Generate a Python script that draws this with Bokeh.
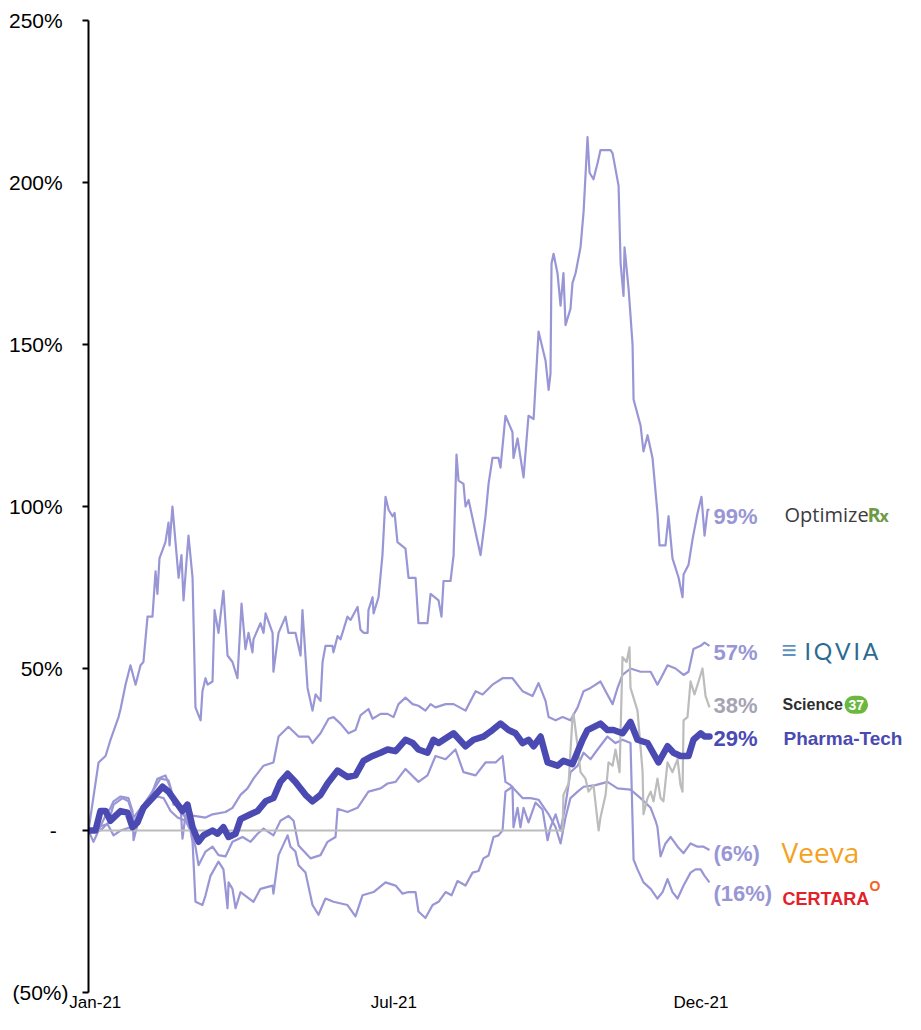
from bokeh.plotting import figure
from bokeh.models import Range1d, FixedTicker, Label
from bokeh.embed import file_html
from bokeh.resources import INLINE

# ---- data: day of year 2021 (0 = 1 Jan) and cumulative return in % ----
optimizerx_day = [0, 5.9, 10, 12.9, 17.6, 18.8, 21.7, 24.6, 27.6, 30.5, 32.2, 34.6, 37.5, 39.3, 40.4, 41.6, 45.1, 46.9, 47.5, 49.2, 51, 52.8, 54.5, 55.7, 58.6, 61, 62.7, 65.7, 66.8, 68.6, 69.8, 72.7, 73.9, 76.2, 79.1, 81.5, 84.4, 87.3, 89.7, 92, 93.8, 96.1, 96.7, 100.8, 102.6, 103.8, 107.9, 108.4, 111.4, 115.5, 117.2, 121.3, 124.3, 125.4, 128.4, 131.3, 133.1, 136, 137.2, 138.9, 143, 143.6, 146, 147.7, 151.8, 153.6, 157.7, 159.4, 161.2, 163.6, 164.1, 166.5, 167.1, 170, 172.3, 174.1, 175.9, 178.2, 179.4, 181.1, 185.8, 187.6, 191.7, 193.4, 198.7, 200.5, 205.2, 206.9, 208.1, 212.2, 214, 215.7, 216.9, 219.8, 221, 222.8, 226.9, 229.8, 232.7, 234.5, 236.8, 240.3, 241.5, 244.4, 248.5, 249.1, 251.5, 255, 257.9, 260.9, 263.8, 267.9, 269.7, 270.8, 271.4, 272.6, 274.9, 276.7, 278.4, 279.6, 282.5, 283.7, 285.5, 288.4, 290.2, 292.5, 293.7, 296, 298.4, 300.1, 306, 307.2, 310.7, 311.9, 313.6, 314.2, 316.6, 318.9, 319.5, 323.6, 325.3, 327.7, 330.6, 333.5, 334.7, 338.2, 340, 342.3, 345.9, 348.2, 348.8, 351.7, 354.1, 357, 359.3, 361.1, 362.9, 364]
optimizerx_ret = [0, 21, 23, 28, 35, 37.5, 45, 51, 45, 51, 52, 66, 66, 80, 73, 84, 89, 95, 88, 100, 89, 78, 85, 71, 91, 78, 38, 34, 43, 47, 45, 46, 68, 61, 74, 54, 52, 47, 70, 56, 61, 55, 59, 64, 61, 67, 61, 49, 61, 66, 61, 61, 54, 68, 44, 37, 42, 40, 52, 57, 57, 55, 60, 59, 66, 65, 69, 62, 61, 61, 68, 72, 67, 72, 85, 103, 99, 97, 98, 89, 87, 78, 78, 64, 64, 73, 71, 66, 77, 77, 85, 116, 108, 107, 100, 102, 92, 85, 97, 107, 115, 115, 112, 128, 123, 115, 121, 109, 128, 127, 154, 145, 136, 141, 175, 178, 172, 162, 172, 156, 161, 169, 172, 180, 191, 214, 203, 201, 206, 210, 210, 209, 199, 175, 165, 180, 167, 150, 133, 125, 117, 122, 115, 98, 88, 88, 97, 84, 78, 72, 79, 82, 90, 98, 103, 91, 99, 99]

iqvia_day = [0, 7, 11.7, 14.7, 19.9, 23.4, 26.4, 32.2, 37.5, 42.2, 46.9, 49.8, 53.9, 56.9, 59.8, 61, 68.6, 72.7, 80.3, 84.4, 89.1, 93.2, 96.7, 102.6, 108.4, 111.4, 117.2, 123.1, 129, 131.3, 136, 140.7, 143.6, 147.7, 152.4, 156.5, 159.4, 164.1, 166.5, 171.2, 175.3, 178.8, 181.7, 185.8, 190, 193.4, 197.5, 200.5, 203.4, 209.3, 214, 221, 226.9, 231, 236.8, 242.7, 248.5, 254.4, 260.3, 263.8, 267.9, 269.7, 273.8, 277.9, 282.5, 286.7, 290.2, 294.3, 300.1, 303.1, 307.2, 310.1, 313, 317.7, 323.6, 329.5, 333.5, 336.5, 339.4, 344.1, 348.8, 351.7, 354.6, 358.8, 361.1, 364]
iqvia_ret = [0, 0, 2.5, 8, 10, 9, 4, 8, 12, 16, 15.5, 10, 6, 4, 6, 4.6, 4, 5, 5.7, 7, 11, 13, 16, 20, 21, 29, 32, 29, 29, 27, 30, 34.5, 35, 33, 30, 31, 35.5, 37.5, 34.5, 36, 36, 35, 39, 41, 39, 38.5, 37, 39, 38, 39, 39, 37, 43, 42, 45, 47, 47, 43, 41.5, 45.5, 40, 35, 34, 35, 34, 38, 43, 44, 46, 43, 39, 44, 48, 50, 49, 49, 45, 48, 51, 50, 48, 49, 56, 57, 58, 57]

veeva_day = [0, 2.9, 5.9, 9.4, 12.9, 14.7, 18.8, 23.4, 25.8, 26.4, 29.3, 34.6, 40.4, 45.1, 48.1, 49.8, 53.9, 55.1, 56.9, 59.8, 62.7, 64.5, 68.6, 72.7, 76.2, 80.3, 84.4, 90.3, 95, 99.1, 102.6, 108.4, 112.5, 117.2, 120.2, 123.1, 130.1, 136, 140.1, 144.8, 146, 151.8, 157.7, 164.1, 171.2, 175.3, 180, 185.8, 193.4, 198.7, 203.4, 209.3, 215.1, 219.8, 226.9, 232.7, 238.6, 242.7, 244.4, 247.4, 254.4, 259.1, 263.8, 269.7, 273.8, 276.7, 279.6, 282.5, 286.7, 290.2, 297.2, 304.2, 310.1, 317.7, 323.6, 329.5, 332.4, 333.5, 335.3, 338.2, 341.2, 345.3, 348.8, 352.9, 357, 360.5, 364]
veeva_ret = [0, -3.5, 0, 4, 7, 9, 10.5, 10, 6, -3, 3, 8, 16, 17, 13, 8, 8, -2.5, 5, 0, -5, -10.7, -6.5, -5, -7.6, -8, -3.5, -2, -3.5, -1, 0.6, -1.5, 3, 4.5, 3, -4.6, -8.6, -7.6, -3.5, -2, 6.7, 5.7, 7, 12, 13, 14.5, 15, 19, 15, 17, 23, 22, 25, 18, 17, 21, 21, 23, 15, 14, 10, 10, 9.5, 5, 1, -4, 4, 10, 12, 13.5, 14, 15, 13, 12.6, 10, 7, 3, 1, -8, -4, -2, -5, -7, -4, -5, -5, -6]

certara_day = [0, 5.3, 11.1, 14.7, 18.8, 24.6, 30.5, 34.6, 40.4, 44, 48.1, 52.2, 56.9, 59.8, 61, 62.7, 66.8, 68.6, 71.5, 76.2, 79.1, 81.5, 82.1, 84.4, 86.2, 89.1, 96.7, 100.8, 107.9, 108.4, 111.4, 116.7, 118.4, 121.3, 123.1, 127.2, 131.3, 134.8, 138.9, 143.6, 151.8, 156.5, 160.6, 167.1, 174.1, 180, 184.1, 187.6, 191.7, 193.4, 197.5, 201.7, 205.2, 209.3, 212.8, 216.3, 221, 225.1, 228.6, 231.5, 234.5, 237.4, 240.3, 242.7, 244.4, 248.5, 249.1, 251.5, 253.2, 255, 257.9, 262, 266.1, 269.1, 270.8, 273.8, 276.7, 279.6, 282.5, 286.7, 290.2, 294.3, 298.4, 304.2, 308.9, 313, 317.7, 319.5, 321.8, 325.3, 329.5, 333.5, 336.5, 339.4, 342.3, 345.3, 348.8, 352.9, 355.8, 358.8, 361.1, 364]
certara_ret = [0, 1, 2, -1.5, 0, 1, 6, 9, 10.5, 10, 6, 4, 3, 0, -3.5, -22, -23, -20, -14, -9.6, -12, -24, -16, -18, -24, -19, -22, -18, -17, -19.5, -7.6, -1.5, -5, -6.5, -10.7, -13, -23, -26, -21, -22, -23, -26.5, -20, -19, -16, -17, -19.5, -19, -19, -25, -27, -23, -22, -19, -20, -15.6, -17, -13, -12.5, -8.6, -7.7, -2, -1.5, 0, 12, 13.5, 1, 7, 1, 7, 2.5, 8.6, 6.5, -3, 1, 5, 0, 8, 18, 20, 24, 22, 25, 29, 27, 28, 27, -9, -12, -16, -18, -21, -19, -15, -19, -21, -17, -13, -12, -12, -14, -16]

science37_day = [0, 277.9, 278.4, 281.4, 283.7, 284.3, 286.7, 288.4, 291.3, 293.1, 296, 299, 300.1, 303.1, 304.8, 307.2, 308.9, 311.3, 313, 315.4, 317.1, 317.7, 321.8, 324.8, 325.3, 327.7, 329.5, 331.2, 333.5, 335.3, 337, 339.4, 342.3, 345.3, 347, 348.2, 348.8, 351.1, 352.9, 355.2, 357.6, 359.9, 361.7, 364]
science37_ret = [0, 0, 11, 14.5, 35, 36, 26, 18, 16, 12, 14, 0, 4, 11, 21, 20, 25, 18, 53.5, 52, 56.5, 44, 37, 18, 5, 10, 12, 9, 16, 10, 9, 21, 18, 22, 14, 12, 34, 35, 46, 42, 46, 50, 41.5, 38]

pharmatech_day = [0, 4.1, 7, 10, 12.9, 15.8, 18.8, 22.9, 25.8, 28.7, 32.2, 37.5, 43.4, 46.9, 51, 55.1, 58, 61, 64.5, 67.4, 72.7, 75.6, 79.1, 82.1, 86.2, 89.1, 95, 99.1, 103.8, 108.4, 112.5, 116.7, 121.3, 127.2, 131.3, 136, 140.1, 146, 151.8, 156.5, 161.2, 166.5, 171.2, 175.3, 180, 185.8, 190, 193.4, 198.7, 202.2, 205.2, 208.1, 214, 221, 225.7, 231.5, 236.8, 241.5, 246.2, 250.3, 254.4, 257.9, 260.9, 265, 269.1, 274.9, 278.4, 283.7, 289.6, 292.5, 300.1, 304.2, 307.7, 313, 317.7, 321.8, 327.7, 334.1, 339.4, 342.9, 347, 351.7, 354.6, 358.8, 361.1, 364]
pharmatech_ret = [0, 0, 6, 6, 3, 4.5, 6, 5.5, 1, 2.5, 7, 10, 13.5, 12, 9, 6, 8, 1, -3.5, -1.5, 0, -1, 1, -2, -1, 3.5, 5, 6, 9, 10, 15, 17.5, 15, 11, 9, 11, 14.5, 18.5, 16.5, 17, 21.5, 23, 24, 25, 24.5, 28, 27, 25, 24, 28, 27, 28, 30, 26, 28, 29, 31, 33, 31, 30, 27, 28, 26, 29, 21, 20, 21.5, 20.5, 28, 31, 33, 31, 31, 30, 33.5, 28, 27, 21, 26, 24, 23, 23, 28, 30, 29, 29]

y_ticks = [-50, 0, 50, 100, 150, 200, 250]
y_tick_labels = ["(50%)", "-\u2007", "50%\u00a0", "100%\u00a0", "150%\u00a0", "200%\u00a0", "250%\u00a0"]
x_ticks = [4, 179, 359]
x_tick_labels = ["Jan-21", "Jul-21", "Dec-21"]

series_names = ["OptimizeRx", "IQVIA", "Science37", "Pharma-Tech", "Veeva", "Certara"]
end_labels = ["99%", "57%", "38%", "29%", "(6%)", "(16%)"]

LIGHT = "#9996d6"
DARK = "#4a4ab2"
GRAY = "#bcbcbc"

W, H = 905, 1014
LEFT, TOP, BOTTOM = 88, 20, 19
DAYS_PER_PX = 364.0 / 621.0
x_end = (W - LEFT) * DAYS_PER_PX

p = figure(width=W, height=H, output_backend="svg", toolbar_location=None,
           x_range=Range1d(0, x_end), y_range=Range1d(-50, 250),
           min_border_left=LEFT, min_border_right=0, min_border_top=TOP,
           min_border_bottom=BOTTOM)
p.outline_line_color = None
p.xgrid.visible = False
p.ygrid.visible = False
p.background_fill_color = "white"
p.border_fill_color = "white"

for d, r in [(optimizerx_day, optimizerx_ret), (iqvia_day, iqvia_ret),
             (veeva_day, veeva_ret), (certara_day, certara_ret)]:
    p.line(d, r, line_color=LIGHT, line_width=2.2, line_join="round")
p.line(science37_day, science37_ret, line_color=GRAY, line_width=2.2, line_join="round")
p.line(pharmatech_day, pharmatech_ret, line_color=DARK, line_width=6.5,
       line_join="round", line_cap="round")

ya = p.yaxis[0]
ya.ticker = FixedTicker(ticks=y_ticks)
ya.major_label_overrides = dict(zip(y_ticks, y_tick_labels))
ya.axis_line_color = "black"
ya.axis_line_width = 2
ya.major_tick_line_color = "black"
ya.major_tick_line_width = 2
ya.major_tick_in = 0
ya.major_tick_out = 6
ya.minor_tick_line_color = None
ya.major_label_standoff = 14
ya.major_label_text_font = "Liberation Sans"
ya.major_label_text_font_size = "21px"
ya.major_label_text_color = "black"

xa = p.xaxis[0]
xa.ticker = FixedTicker(ticks=x_ticks)
xa.major_label_overrides = dict(zip(x_ticks, x_tick_labels))
xa.axis_line_color = None
xa.major_tick_line_color = None
xa.minor_tick_line_color = None
xa.major_tick_in = 0
xa.major_tick_out = 0
xa.major_label_standoff = 0
xa.major_label_text_font = "Liberation Sans"
xa.major_label_text_font_size = "17px"
xa.major_label_text_color = "black"

# end-of-line value labels
final_vals = [optimizerx_ret[-1], iqvia_ret[-1], science37_ret[-1],
              pharmatech_ret[-1], veeva_ret[-1], certara_ret[-1]]
label_shift = [-2, -2, 0.5, -0.7, -1, -3.4]
label_colors = [LIGHT, LIGHT, "#a5a4b4", DARK, LIGHT, LIGHT]
PCT_X = (713 - LEFT) * DAYS_PER_PX
for txt, v, s, c in zip(end_labels, final_vals, label_shift, label_colors):
    p.add_layout(Label(x=PCT_X, y=v + s, text=txt, text_font="Liberation Sans",
                       text_font_size="22px", text_font_style="bold", text_color=c,
                       text_align="left", text_baseline="middle"))

def px(xpix):
    return (xpix - LEFT) * DAYS_PER_PX

def lab(x, y, text, **kw):
    opts = dict(text_align="left", text_baseline="middle", text_font="Liberation Sans")
    opts.update(kw)
    p.add_layout(Label(x=x, y=y, text=text, **opts))

# OptimizeRx
lab(px(784), 97.6, "Optimize", text_font="Open Sans", text_font_size="20px", text_color="#3b3b40")
lab(px(867), 97.6, "R", text_font="Open Sans", text_font_size="20px", text_font_style="bold",
    text_color="#6f9a45")
lab(px(879), 97.0, "x", text_font="Open Sans", text_font_size="16px", text_font_style="bold",
    text_color="#6f9a45")
# IQVIA
lab(px(781), 55.6, "\u2261", text_font_size="26px", text_color="#5e93c0")
lab(px(804), 55.4, "I\u2009Q\u2009V\u2009I\u2009A", text_font="Lato", text_font_size="23px",
    text_color="#2d6a92")
# Science37
lab(px(782), 38.8, "Science", text_font="Liberation Sans", text_font_size="16px",
    text_font_style="bold", text_color="#2e2e2e")
lab(px(844), 38.8, "37", text_font="Liberation Sans", text_font_size="14px",
    text_font_style="bold", text_color="white", background_fill_color="#6cb83f",
    padding=4, border_radius=12)
# Pharma-Tech
lab(px(783), 28.3, "Pharma-Tech", text_font="Liberation Sans", text_font_size="19px",
    text_font_style="bold", text_color=DARK)
# Veeva
lab(px(781), -6.6, "Veeva", text_font="Open Sans", text_font_size="28px", text_color="#f5a11c")
# Certara
lab(px(782), -21.0, "CERTARA", text_font="Liberation Sans", text_font_size="18px",
    text_font_style="bold", text_color="#e2212b")
lab(px(869), -17.0, "O", text_font="Liberation Sans", text_font_size="14px",
    text_font_style="bold", text_color="#f26522")

open("out.html", "w").write(file_html(p, INLINE))
